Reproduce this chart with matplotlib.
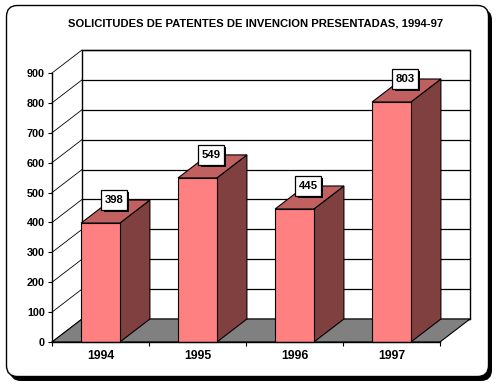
import matplotlib
matplotlib.use("Agg")
import matplotlib.pyplot as plt
from matplotlib.patches import Polygon, FancyBboxPatch
from matplotlib.path import Path
import matplotlib.patheffects as pe

plt.rcParams['font.family'] = ['Liberation Sans', 'DejaVu Sans']

title = "SOLICITUDES DE PATENTES DE INVENCION PRESENTADAS, 1994-97"
years = ["1994", "1995", "1996", "1997"]
values = [398, 549, 445, 803]
yticks = [0, 100, 200, 300, 400, 500, 600, 700, 800, 900]

W, H = 501, 390
fig = plt.figure(figsize=(W / 100, H / 100), dpi=100)
fig.patch.set_facecolor('white')

# background frame axes in pixel coords
bg = fig.add_axes([0, 0, 1, 1], zorder=0)
bg.set_xlim(0, W)
bg.set_ylim(H, 0)
bg.axis('off')
bg.add_patch(FancyBboxPatch((10, 9), 482, 372, boxstyle="round,pad=0,rounding_size=11",
                            facecolor='black', edgecolor='black', lw=0))
bg.add_patch(FancyBboxPatch((6.5, 5.5), 482, 371, boxstyle="round,pad=0,rounding_size=11",
                            facecolor='white', edgecolor='black', lw=1))

fig.text(256 / W, 1 - 24 / H, title, ha='center', va='center', fontsize=8.1,
         fontweight='bold')

# main axes: front plane
ax = fig.add_axes([52 / W, (H - 342) / H, 388 / W, 269 / H], zorder=1)
ax.set_facecolor('none')
n = len(years)
ax.set_xlim(0, n)
ax.set_ylim(0, 900)
DX = 30 / 97.0
DY = 23 / 269.0 * 900

for s in ['top', 'right']:
    ax.spines[s].set_visible(False)
ax.spines['left'].set_linewidth(1)
ax.spines['bottom'].set_linewidth(1)
ax.spines['left'].set_zorder(6)
ax.spines['bottom'].set_zorder(6)

# back wall
ax.add_patch(Polygon([(DX, DY), (n + DX, DY), (n + DX, 900 + DY), (DX, 900 + DY)],
                     closed=True, facecolor='white', edgecolor='black', lw=1,
                     clip_on=False, zorder=0.5))
# gridlines on back wall and diagonal connectors
for v in yticks:
    ax.plot([DX, n + DX], [v + DY, v + DY], color='black', lw=0.9, clip_on=False, zorder=1)
    ax.plot([0, DX], [v, v + DY], color='black', lw=0.6, clip_on=False, zorder=1)

# floor
ax.add_patch(Polygon([(0, 0), (n, 0), (n + DX, DY), (DX, DY)], closed=True,
                     facecolor='#808080', edgecolor='black', lw=0.8,
                     clip_on=False, zorder=2))

# bars
bw = 0.4
centers = [i + 0.5 for i in range(n)]
for c, v in zip(centers, values):
    x0, x1 = c - bw / 2, c + bw / 2
    ax.add_patch(Polygon([(x1, 0), (x1 + DX, DY), (x1 + DX, v + DY), (x1, v)], closed=True,
                         facecolor='#804040', edgecolor='black', lw=0.8,
                         clip_on=False, zorder=3))
    ax.add_patch(Polygon([(x0, v), (x1, v), (x1 + DX, v + DY), (x0 + DX, v + DY)], closed=True,
                         facecolor='#C06060', edgecolor='black', lw=0.8,
                         clip_on=False, zorder=3))
ax.bar(centers, values, width=bw, color='#FF8080', edgecolor='black', lw=0.8, zorder=4,
       clip_on=False)


def label_box(x0, y0, width, height, mutation_size):
    px = 0.28 * mutation_size
    py = 0.42 * mutation_size
    x0, y0 = x0 - px, y0 - py
    x1, y1 = x0 + width + 2 * px, y0 + height + 2 * py
    return Path([(x0, y0), (x1, y0), (x1, y1), (x0, y1), (x0, y0)], closed=True)


# value labels
for c, v in zip(centers, values):
    t = ax.text(c + 0.14, v + 77, str(v), ha='center', va='center', fontsize=8.2,
                fontweight='bold', zorder=7, clip_on=False,
                bbox=dict(boxstyle=label_box, facecolor='white',
                          edgecolor='black', lw=0.9))
    t.get_bbox_patch().set_path_effects([
        pe.SimplePatchShadow(offset=(1.6, -1.6), shadow_rgbFace='black', alpha=1),
        pe.Normal()])

# ticks
ax.set_yticks(yticks)
ax.set_yticklabels([str(v) for v in yticks], fontsize=7.8, fontweight='bold')
ax.tick_params(axis='y', direction='out', length=3, width=0.8, pad=2)
ax.set_xticks(centers)
ax.set_xticklabels(years, fontsize=8.8, fontweight='bold')
ax.set_xticks(list(range(n + 1)), minor=True)
ax.tick_params(axis='x', which='major', length=0, pad=6)
ax.tick_params(axis='x', which='minor', direction='out', length=3, width=0.8)

fig.savefig("out.png", dpi=100)
